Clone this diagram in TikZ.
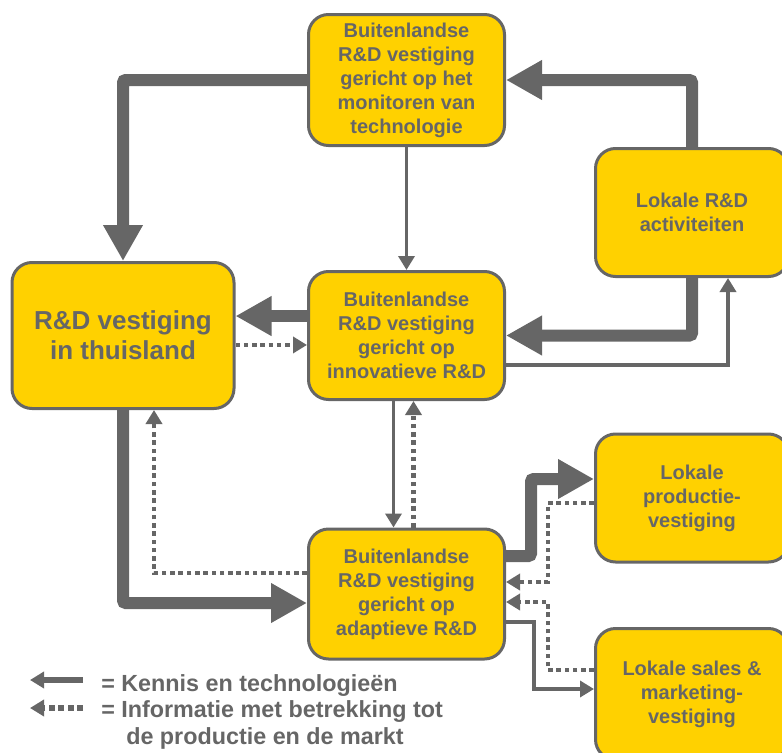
\documentclass[tikz,border=0pt]{standalone}
\usepackage{fontspec}
\setmainfont{Liberation Sans}
\usetikzlibrary{arrows.meta}
\definecolor{ygold}{HTML}{FFD100}
\definecolor{dgray}{HTML}{666666}
\tikzset{
  box/.style={draw=dgray, line width=2.25pt, fill=ygold, rounded corners=15pt,
    text=dgray, font=\fontsize{15}{18}\selectfont\bfseries, align=center, inner sep=0pt},
  kennis/.style={draw=dgray, line width=9pt, rounded corners=2pt, -{Triangle[width=28pt,length=27pt]}},
  dun/.style={draw=dgray, line width=2.8pt, -{Triangle[width=12pt,length=10.5pt]}},
  info/.style={draw=dgray, line width=3.4pt, dash pattern=on 3.4pt off 2.8pt, -{Triangle[width=12pt,length=10.5pt]}},
  legend/.style={text=dgray, font=\fontsize{17.5}{20}\selectfont\bfseries, inner sep=0pt},
}

\begin{document}
\begin{tikzpicture}[x=0.75pt, y=-0.75pt]
    \useasboundingbox (0,0) rectangle (782,753);
    \node[box, minimum width=147pt, minimum height=98.25pt] (mon) at (406.5,80)
      {Buitenlandse\\R\&D vestiging\\gericht op het\\monitoren van\\technologie};
    \node[box, minimum width=147pt, minimum height=96pt] (inno) at (406.5,335.5)
      {Buitenlandse\\R\&D vestiging\\gericht op\\innovatieve R\&D};
    \node[box, minimum width=147pt, minimum height=97.5pt] (adap) at (406.5,594)
      {Buitenlandse\\R\&D vestiging\\gericht op\\adaptieve R\&D};
    \node[box, minimum width=166.5pt, minimum height=109.5pt,
      font=\fontsize{19.5}{22.5}\selectfont\bfseries] (home) at (123,335.5)
      {R\&D vestiging\\in thuisland};
    \node[box, minimum width=144.75pt, minimum height=96pt] (lok) at (692,212.5)
      {Lokale R\&D\\activiteiten};
    \node[box, minimum width=144.75pt, minimum height=96pt] (prod) at (692,498)
      {Lokale\\productie-\\vestiging};
    \node[box, minimum width=144.75pt, minimum height=98.25pt] (sales) at (692,694)
      {Lokale sales \&\\marketing-\\vestiging};

    \draw[kennis] (mon.west) -| (home.north);
    \draw[kennis] (lok.north) |- (mon.east);
    \draw[dun] (mon.south) -- (inno.north);
    \draw[kennis] ([yshift=14.6pt]inno.west) -- ([yshift=14.6pt]home.east);
    \draw[info] ([yshift=-7.1pt]home.east) -- ([yshift=-7.1pt]inno.west);
    \draw[kennis] (lok.south) |- (inno.east);
    \draw[dun] ([yshift=-22.1pt]inno.east) -| ([xshift=27pt]lok.south);
    \draw[kennis] (home.south) |- ([yshift=-6.75pt]adap.west);
    \draw[info] ([yshift=15.75pt]adap.west) -| ([xshift=23.25pt]home.south);
    \draw[dun] ([xshift=-9.75pt]inno.south) -- ([xshift=-9.75pt]adap.north);
    \draw[info] ([xshift=5.25pt]adap.north) -- ([xshift=5.25pt]inno.south);
    \draw[kennis] ([yshift=28.5pt]adap.east) -- ++(25,0) |- ([yshift=14.25pt]prod.west);
    \draw[info] ([yshift=-3.75pt]prod.west) -- ++(-46,0) |- ([yshift=9pt]adap.east);
    \draw[info] ([yshift=18pt]sales.west) -- ++(-46,0) |- ([yshift=-6pt]adap.east);
    \draw[dun] ([yshift=-21pt]adap.east) -- ++(28,0) |- ([yshift=3.75pt]sales.west);

    \coordinate (k1) at (83,680);
    \coordinate (k0) at (30,680);
    \coordinate (i1) at (83,708);
    \coordinate (i0) at (30,708);
    \draw[dgray, line width=4.5pt, -{Triangle[width=12pt,length=10.5pt]}] (k1) -- (k0);
    \draw[dgray, line width=4.5pt, dash pattern=on 4.5pt off 2.6pt, -{Triangle[width=12pt,length=10.5pt]}] (i1) -- (i0);
    \node[legend, anchor=base west] (leg1) at (101,691) {= Kennis en technologieën};
    \node[legend, anchor=base west] (leg2) at (101,717.5) {= Informatie met betrekking tot};
    \node[legend, anchor=base west] (leg3) at (126,744) {de productie en de markt};
\end{tikzpicture}
\end{document}
